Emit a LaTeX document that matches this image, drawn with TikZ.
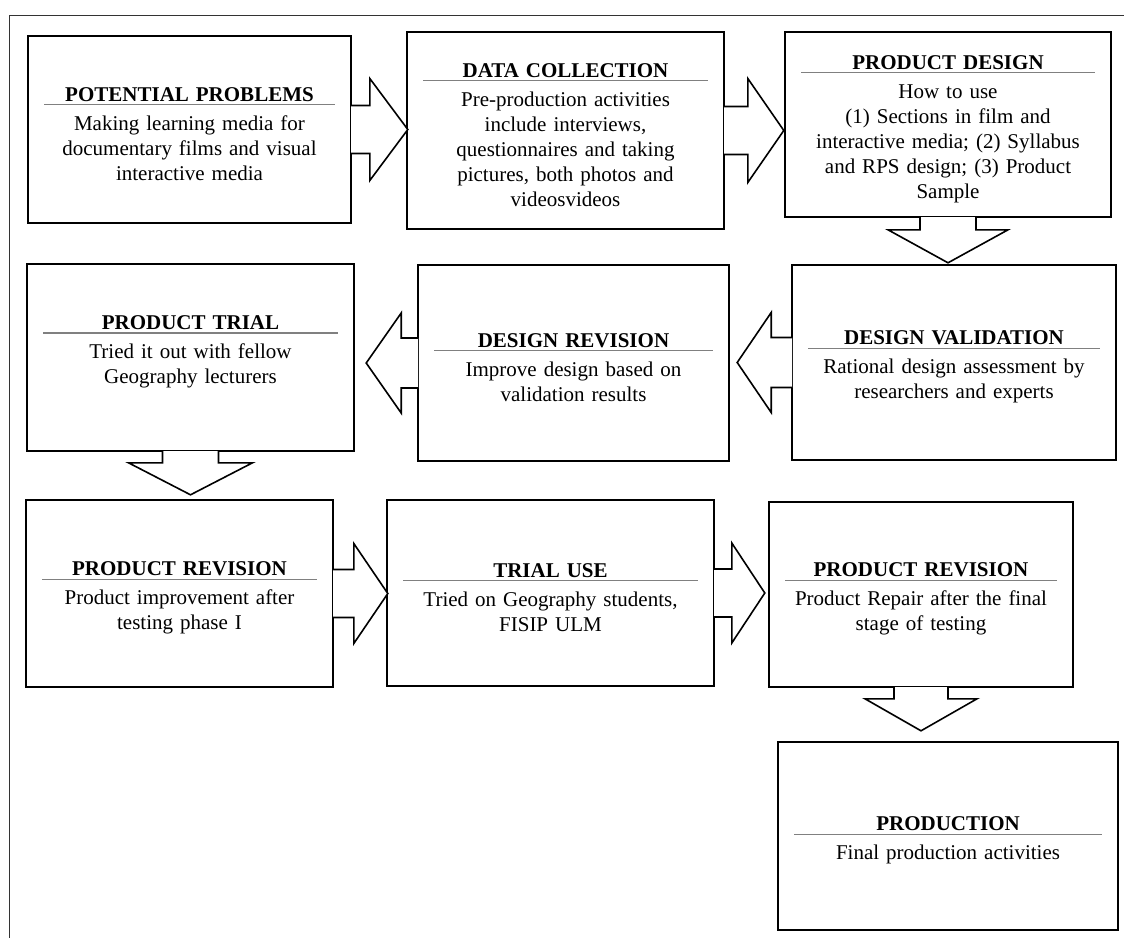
\documentclass[tikz,border=0pt]{standalone}
\usepackage{fontspec}
\setmainfont{Liberation Serif}
\usepackage{xcolor}
\usepackage{tikz}
\tikzset{
	stage/.style={draw=black, line width=1.6pt, fill=white, inner xsep=16pt, inner ysep=0pt,
	align=center, font=\fontsize{21}{25}\selectfont},
	stagearrow/.style={draw=black, line width=1.6pt, fill=white, line join=miter}
}
\tikzset{
	frameline/.style={draw=black!80, line width=1pt}
}

\begin{document}
\begin{tikzpicture}[x=1pt, y=-1pt]
		\newcommand{\stagetitle}[1]{\rule{0pt}{23pt}\textbf{#1}\\[-21pt]{\color{gray}\rule{\linewidth}{1.2pt}}\\}
		% arrow: anchor, angle, shaft length, shaft half width, head length, head half width
		\newcommand{\blockarrow}[6]{%
			\begin{scope}[shift={(#1)}, rotate=#2]
				\draw[stagearrow] (-0.8, -#4) -- (#3, -#4) -- (#3, -#6) -- (#3 + #5, 0) -- (#3, #6) -- (#3, #4) -- (-0.8, #4);
			\end{scope}}

		\useasboundingbox (0, 0) rectangle (1124, 938);

		% outer frame
		\draw[frameline] (1124, 15) -- (9, 15) -- (9, 938);

		% first row
		\node[stage, text width=291pt, minimum height=187pt] (pp) at (189.5, 129.5) {\stagetitle{POTENTIAL PROBLEMS}Making learning media for\\documentary films and visual\\interactive media};
		\node[stage, text width=285pt, minimum height=197pt] (dc) at (565.5, 130.5) {\stagetitle{DATA COLLECTION}Pre-production activities\\include interviews,\\questionnaires and taking\\pictures, both photos and\\videosvideos};
		\node[stage, text width=294pt, minimum height=185pt] (pd) at (948, 124.5) {\stagetitle{PRODUCT DESIGN}How to use\\(1) Sections in film and\\interactive media; (2) Syllabus\\and RPS design; (3) Product\\Sample};

		% second row
		\node[stage, text width=292pt, minimum height=195pt] (dv) at (954, 362.5) {\stagetitle{DESIGN VALIDATION}Rational design assessment by\\researchers and experts};
		\node[stage, text width=279pt, minimum height=196pt] (dr) at (573.5, 363) {\stagetitle{DESIGN REVISION}Improve design based on\\validation results};
		\node[stage, text width=295pt, minimum height=187pt] (pt) at (190.5, 357.5) {\stagetitle{PRODUCT TRIAL}Tried it out with fellow\\Geography lecturers\\\mbox{}};

		% third row
		\node[stage, text width=275pt, minimum height=187pt] (pr) at (179.5, 593.5) {\stagetitle{PRODUCT REVISION}Product improvement after\\testing phase I};
		\node[stage, text width=295pt, minimum height=186pt] (tu) at (550.5, 593) {\stagetitle{TRIAL USE}Tried on Geography students,\\FISIP ULM};
		\node[stage, text width=272pt, minimum height=185pt] (prr) at (921, 594.5) {\stagetitle{PRODUCT REVISION}Product Repair after the final\\stage of testing};

		% last stage
		\node[stage, text width=308pt, minimum height=188pt] (prod) at (948, 836) {\stagetitle{PRODUCTION}Final production activities};

		% block arrows
		\blockarrow{pp.east}{0}{18}{24}{38}{51}
		\blockarrow{dc.east}{0}{23}{24}{36}{52}
		\blockarrow{pd.south}{-90}{12}{28}{33}{60}
		\blockarrow{dv.west}{180}{20}{25}{34}{50}
		\blockarrow{dr.west}{180}{16}{25}{35}{50}
		\blockarrow{pt.south}{-90}{11}{28}{32}{62}
		\blockarrow{pr.east}{0}{20}{24}{34}{50}
		\blockarrow{tu.east}{0}{17}{24}{33}{50}
		\blockarrow{prr.south}{-90}{11}{27}{32}{56}

	\end{tikzpicture}
\end{document}
